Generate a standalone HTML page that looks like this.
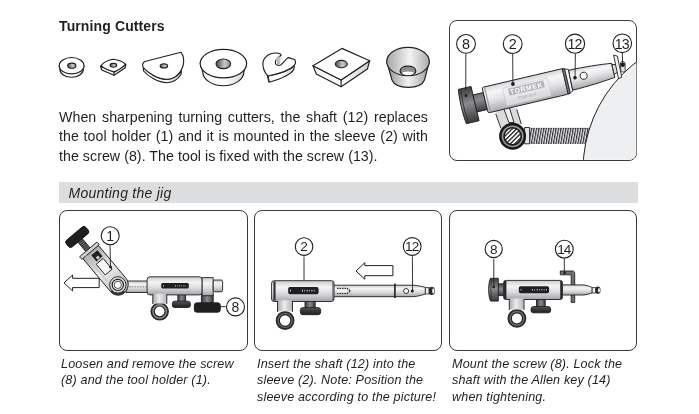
<!DOCTYPE html>
<html><head><meta charset="utf-8"><style>
*{margin:0;padding:0;box-sizing:border-box}
html,body{width:699px;height:414px;background:#fff;overflow:hidden}
body>*{will-change:transform}
body{position:relative;font-family:"Liberation Sans",sans-serif;color:#231f20}
.a{position:absolute;white-space:nowrap}
#title{left:59px;top:18.3px;font-weight:bold;font-size:14px;line-height:16px;letter-spacing:0.12px}
#para{left:59px;top:108.1px;width:369px;font-size:14.2px;line-height:19.3px;text-align:justify;text-align-last:left;white-space:normal;letter-spacing:0.05px}
#bar{left:59px;top:182px;width:579px;height:21px;background:#dcdddf}
#bar span{position:absolute;left:9.6px;top:2.8px;font-style:italic;font-size:14px;line-height:16px;letter-spacing:0.25px}
.box{position:absolute;width:188px;height:141px;border:1.3px solid #3a3a3c;border-radius:8px}
.cap{position:absolute;top:356.1px;font-style:italic;font-size:12.6px;line-height:16.3px;white-space:nowrap;letter-spacing:0.15px}
svg{position:absolute;left:0;top:0}
</style></head><body>
<div class="a" id="title">Turning Cutters</div>
<div class="a" id="para">When sharpening turning cutters, the shaft (12) replaces the tool holder (1) and it is mounted in the sleeve (2) with the screw (8). The tool is fixed with the screw (13).</div>
<div class="a" id="bar"><span>Mounting the jig</span></div>
<div class="box" style="left:449px;top:19.5px;border-color:#3e3c3e"></div>
<div class="box" style="left:58.5px;top:209.8px;width:188.5px"></div>
<div class="box" style="left:254px;top:209.8px"></div>
<div class="box" style="left:449px;top:209.8px"></div>
<div class="cap" style="left:60.5px">Loosen and remove the screw<br>(8) and the tool holder (1).</div>
<div class="cap" style="left:256.5px">Insert the shaft (12) into the<br>sleeve (2). Note: Position the<br>sleeve according to the picture!</div>
<div class="cap" style="left:451.5px">Mount the screw (8). Lock the<br>shaft with the Allen key (14)<br>when tightening.</div>
<svg width="699" height="414" viewBox="0 0 699 414">
<defs>
<linearGradient id="gh" x1="0" x2="1" y1="0" y2="0"><stop offset="0" stop-color="#4a4a4c"/><stop offset="0.6" stop-color="#c8c8ca"/><stop offset="1" stop-color="#8a8a8c"/></linearGradient>
<linearGradient id="gside" x1="0" x2="1" y1="0" y2="0"><stop offset="0" stop-color="#f4f4f5"/><stop offset="0.5" stop-color="#ffffff"/><stop offset="1" stop-color="#d0d0d2"/></linearGradient>
<linearGradient id="gcup" x1="0" x2="1" y1="0" y2="0"><stop offset="0" stop-color="#8e8f92"/><stop offset="0.5" stop-color="#f2f2f3"/><stop offset="1" stop-color="#9c9da0"/></linearGradient>
<linearGradient id="gcupin" x1="0" x2="1" y1="0" y2="0"><stop offset="0" stop-color="#a5a6a9"/><stop offset="0.55" stop-color="#f4f4f5"/><stop offset="1" stop-color="#a9aaad"/></linearGradient>
</defs>
<g id="cutters" stroke="#231f20" stroke-width="1.15" fill="#fff" stroke-linejoin="round">
 <!-- c1 -->
 <path d="M59.2,65.7 L59.9,69.2 A11.7,8.1 0 0 0 83.3,69.2 L84,65.7 Z" fill="url(#gside)"/>
 <ellipse cx="71.6" cy="65.7" rx="12.4" ry="8.2"/>
 <ellipse cx="71.8" cy="65.7" rx="4.1" ry="2.5" fill="url(#gh)"/>
 <!-- c2 -->
 <path d="M100.5,66.2 L101.8,70 L114,75.3 L125,68.1 L125.9,64.4 L114,71.9 Z" fill="url(#gside)"/>
 <path d="M114,71.9 L114,75.3" fill="none"/>
 <path d="M101,65.6 C104,62 108,60 113.4,59.3 C118,60 123,62 125.6,64.2 C123,67 118,70.5 114,71.9 C109,70.5 104,68.5 101,65.6 Z"/>
 <ellipse cx="113.4" cy="65.3" rx="3.3" ry="1.9" fill="url(#gh)"/>
 <!-- c3 -->
 <path d="M143.3,67.5 C148,73 158,79.4 167,79.4 C173.5,79 178,76 181.5,71 L181,74.5 C178,79.3 173.5,82.3 167,82.7 C158,82.7 148,76.3 143.6,71 Z" fill="url(#gside)"/>
 <path d="M144.8,61.5 L181,52.3 C183.5,55 184.5,61 183,66 C181,73 175,79 167,79.4 C158,79.4 148,73 143.3,67.5 C142,65.5 142.6,62.6 144.8,61.5 Z"/>
 <ellipse cx="163.9" cy="65.9" rx="3.7" ry="2" fill="url(#gh)"/>
 <!-- c4 -->
 <path d="M200.2,63.6 L202.7,71.8 A20.6,13.9 0 0 0 243.9,71.8 L246.6,63.6 Z" fill="url(#gside)"/>
 <ellipse cx="223.4" cy="63.6" rx="23.2" ry="14.3"/>
 <ellipse cx="223.3" cy="63.8" rx="7.3" ry="4.8" fill="url(#gh)"/>
 <!-- c5 -->
 <path d="M267.5,76 C278,74 290,70 294.3,65.5 L293.8,69.5 C291,74.5 282,78.5 269,82.2 Z" fill="url(#gside)"/>
 <path d="M268,76 C264,72 262.5,67 263,62 C264.5,56 270,53 275.5,53 C278.5,53 281,54 281,55.3 C278,57.5 275.5,60 275.3,62.5 C275.3,65 278,66 280.5,65 C283.5,63 286,59 288.3,57.6 L294.7,59.5 C295.8,61.5 295.5,64 294.3,65.5 C290,70 278,74 268,76 Z"/>
 <path d="M281,55.3 C279.5,57.5 277,61 278,64" fill="none" stroke-width="0.7"/>
 <path d="M276,58 C276,61 277,64 280,65 L280.5,56 Z" fill="#bdbdbf" stroke="none"/>
 <path d="M268,76 L269,82.2" fill="none"/>
 <!-- c6 -->
 <path d="M313,65.7 L316.3,74 L341.1,86.8 L367.4,69 L369.7,60.7 L341.1,80.1 Z" fill="url(#gside)"/>
 <path d="M341.1,80.1 L341.1,86.8" fill="none"/>
 <path d="M341.9,48.4 L369.7,60.7 L341.1,80.1 L313,65.7 Z"/>
 <ellipse cx="341.3" cy="64" rx="6" ry="3.7" fill="url(#gh)"/>
 <!-- c7 cup -->
 <path d="M386.7,61.6 L392,80 C394,85 401,87.3 408.3,87.3 C415.5,87.3 422.5,85 424.5,80 L429.3,61.6 Z" fill="url(#gcup)"/>
 <ellipse cx="408" cy="61.6" rx="21.3" ry="14.2" fill="url(#gcupin)"/>
 <path d="M400.1,71 C400.1,68 403.5,66.1 408,66.1 C412.5,66.1 415.8,68 415.8,71 C415.8,73.5 412.5,75 408,75 C403.5,75 400.1,73.5 400.1,71 Z" fill="#8d8e91"/>
 <ellipse cx="408" cy="73.2" rx="5.8" ry="1.7" fill="#fff" stroke="none"/>
</g>

<defs>
<clipPath id="cTR"><rect x="450" y="20.2" width="186.4" height="139.6" rx="7"/></clipPath>
<linearGradient id="gcyl" x1="0" x2="0" y1="0" y2="1"><stop offset="0" stop-color="#d2d3d5"/><stop offset="0.25" stop-color="#f7f7f8"/><stop offset="0.55" stop-color="#e2e3e5"/><stop offset="1" stop-color="#a9aaad"/></linearGradient>
<linearGradient id="gdark" x1="0" x2="0" y1="0" y2="1"><stop offset="0" stop-color="#6d6e71"/><stop offset="0.35" stop-color="#8a8b8e"/><stop offset="1" stop-color="#3e3f41"/></linearGradient>
<linearGradient id="gknob" x1="0" x2="0" y1="0" y2="1"><stop offset="0" stop-color="#3e3f41"/><stop offset="0.45" stop-color="#8a8b8e"/><stop offset="1" stop-color="#3a3a3c"/></linearGradient>
<pattern id="hatch" width="3.1" height="3.1" patternUnits="userSpaceOnUse" patternTransform="rotate(45)"><rect width="3.1" height="3.1" fill="#fff"/><rect width="1.3" height="3.1" fill="#231f20"/></pattern>
<pattern id="thread" width="2.45" height="20" patternUnits="userSpaceOnUse" patternTransform="skewX(-10)"><rect width="2.45" height="20" fill="#e2e2e4"/><rect width="1.15" height="20" fill="#2f2f31"/></pattern>
</defs>
<g stroke="#231f20" stroke-width="0.9">
 <!-- thread rod -->
 <rect x="529" y="127.9" width="64" height="15.8" fill="url(#thread)" stroke="none"/>
 <path d="M529,128.4 L593,128.4 M529,143.3 L593,143.3" fill="none" stroke-width="0.8" stroke-dasharray="1.2,1.2"/>
</g>
<g clip-path="url(#cTR)">
 <circle cx="719" cy="170" r="136" fill="#eeeff1" stroke="#231f20" stroke-width="1"/>
</g>
<g id="tr" stroke="#231f20" stroke-width="0.9" stroke-linejoin="round">
 <rect x="524.6" y="127.5" width="5" height="16.3" fill="#e6e6e8"/>
 <!-- strut -->
 <path d="M497,108 L495.5,114 L501,128.5 L521.5,124.5 L516.5,108 Z" fill="#dcdcde" stroke="none"/>
 <path d="M495.8,113.9 L500.9,128.4 M516.8,109.5 L521.2,124" fill="none"/>
 <path d="M502.3,104.5 L508.9,122.5 L514,122.5 L508.1,103.5 Z" fill="#f0f0f1"/>
 <!-- clamp -->
 <circle cx="512.6" cy="136.3" r="12.2" fill="#9a9b9e" stroke="#1a1a1a" stroke-width="2.6"/>
 <circle cx="512.6" cy="136.3" r="8.6" fill="url(#hatch)" stroke="#1a1a1a" stroke-width="1.6"/>
 <!-- main rotated assembly -->
 <g transform="translate(520,91.6) rotate(-13.2)">
  <!-- knob -->
  <path d="M-59.5,-16.2 L-46.5,-16.2 L-46.5,19 L-59.5,19 C-61,10 -61,-8 -59.5,-16.2 Z" fill="url(#gknob)"/>
  <path d="M-57.2,-14.5 C-58.5,-6 -58.5,10 -57.2,17.5" fill="none" stroke="#2a2a2c" stroke-width="0.8"/>
  <!-- neck -->
  <rect x="-46.5" y="-7.5" width="10.5" height="17.5" fill="url(#gdark)"/>
  <!-- body -->
  <rect x="-36" y="-12.7" width="82.5" height="26.2" rx="1.5" fill="url(#gcyl)"/>
  <path d="M-33.5,-12.3 L-33.5,13.1" fill="none" stroke="#9d9ea1" stroke-width="1.2"/>
  <!-- label recess -->
  <path d="M-16.2,-7 L29.5,-7 M-16.2,-7 L-16.2,11 M29.5,-7 L29.5,11" fill="none" stroke="#c4c5c7" stroke-width="0.7"/>
  <rect x="-16" y="-7" width="45.5" height="18" fill="#ededee" stroke="none" opacity="0.6"/>
  <rect x="-11.2" y="-5.7" width="36.4" height="7.2" rx="0.8" fill="#b3b4b7" stroke="none"/>
  <text x="-9.8" y="0.5" font-family="Liberation Sans" font-weight="bold" font-size="6.8" fill="#fff" stroke="none" letter-spacing="0.75">TORMEK</text>
  <text x="-3.2" y="7.3" font-family="Liberation Sans" font-size="4.6" fill="#b0b1b4" stroke="none">Patented</text>
  <!-- collar -->
  <path d="M46.3,-12.7 L48.6,-12.4 L48.6,13.2 L46.3,13.5 Z" fill="#7a7b7e" stroke="#231f20" stroke-width="0.8"/>
  <path d="M48.6,-11.8 L52.2,-10.6 L51.6,11.3 L48.6,12.6 Z" fill="#f4f4f5" stroke="#231f20" stroke-width="0.8"/>
  <!-- shaft -->
  <path d="M52.2,-9.6 C68,-9.6 85,-8 95.6,-6.6 L95.6,7.8 C85,9 68,10.6 51.6,10.6 Z" fill="url(#gcyl)"/>
  <path d="M95.6,-5.2 L99.5,-4.5 L99.5,3.5 L95.6,4.8 Z" fill="#dedee0"/>
  <circle cx="56.7" cy="-0.9" r="1.8" fill="#231f20" stroke="none"/>
  <circle cx="65.6" cy="-0.9" r="3.5" fill="#fff"/>
 </g>
 <!-- small screw 13 -->
 <path d="M620.5,63 C620.5,61 624.5,61 625,63 L625.2,70.5 C624.8,72.5 621,72.5 620.8,70.5 Z" fill="#e4e4e6" stroke-width="0.8"/>
 <path d="M613.6,55.2 L617.3,56 L621.8,77.3 L618.5,78.6 Z" fill="#f4f4f5"/>
 <circle cx="622.7" cy="64.8" r="2.3" fill="#231f20" stroke="none"/>
 <!-- leaders -->
 <path d="M465.8,54 L465.8,90 M512.7,53.6 L512.9,84 M575.4,53.8 L575,77.8 M622.3,52.6 L622.6,63" fill="none" stroke="#231f20" stroke-width="0.9"/>
 <circle cx="512.9" cy="84" r="1.9" fill="#231f20" stroke="none"/>
 <circle cx="466" cy="95.5" r="1.5" fill="#231f20" stroke="none"/>
</g>

<defs>
<linearGradient id="gbody" x1="0" x2="0" y1="0" y2="1"><stop offset="0" stop-color="#c9cacc"/><stop offset="0.3" stop-color="#f4f4f5"/><stop offset="0.6" stop-color="#dcdddf"/><stop offset="1" stop-color="#a4a5a8"/></linearGradient>
<linearGradient id="gleg" x1="0" x2="1" y1="0" y2="0"><stop offset="0" stop-color="#a9aaad"/><stop offset="0.45" stop-color="#ececed"/><stop offset="1" stop-color="#b4b5b8"/></linearGradient>
<linearGradient id="gkn" x1="0" x2="0" y1="0" y2="1"><stop offset="0" stop-color="#5a5b5e"/><stop offset="0.4" stop-color="#3b3c3e"/><stop offset="1" stop-color="#202022"/></linearGradient>
<linearGradient id="gstem" x1="0" x2="1" y1="0" y2="0"><stop offset="0" stop-color="#3a3b3d"/><stop offset="0.5" stop-color="#8a8b8e"/><stop offset="1" stop-color="#3a3b3d"/></linearGradient>
<linearGradient id="gknobv" x1="0" x2="1" y1="0" y2="0"><stop offset="0" stop-color="#3c3d3f"/><stop offset="0.45" stop-color="#77787b"/><stop offset="1" stop-color="#333335"/></linearGradient>
<pattern id="thr2" width="2" height="3" patternUnits="userSpaceOnUse"><rect width="2" height="3" fill="#d4d5d7"/><rect width="1" height="1.2" fill="#4a4a4c"/></pattern>
</defs>
<g stroke="#231f20" stroke-width="0.9" stroke-linejoin="round">
 <!-- ===== PANEL 1 ===== -->
 <!-- rod from ring to sleeve -->
 <rect x="126" y="281" width="23" height="11.5" fill="url(#gbody)"/>
 <path d="M129,286.8 L147,286.8" stroke="#6a6b6e" stroke-width="0.8" stroke-dasharray="1.5,1.2" fill="none"/>
 <!-- holder rotated -->
 <g transform="translate(117.8,285.3) rotate(50)">
  <!-- stem threaded -->
  <rect x="-60" y="-2.8" width="16" height="5.6" fill="#3a3b3d"/>
  <path d="M-58,-2.6 L-58,2.6 M-56,-2.6 L-56,2.6 M-54,-2.6 L-54,2.6 M-52,-2.6 L-52,2.6 M-50,-2.6 L-50,2.6 M-48,-2.6 L-48,2.6 M-46,-2.6 L-46,2.6" stroke="#8a8b8e" stroke-width="0.6"/>
  <!-- T knob -->
  <rect x="-67.5" y="-12.8" width="8.8" height="25.6" rx="2.8" fill="#1f1f21" stroke="#111"/>
  <!-- holder body -->
  <path d="M-44,-10.8 L0,-10.8 C6,-10.8 10,-5 10,0 C10,5.5 5.5,9.6 0,9.6 L-44,9.6 Z" fill="url(#gleg)"/>
  <rect x="-46.5" y="-12" width="3.5" height="23" rx="1" fill="#d0d1d3"/>
  <rect x="-40" y="-7" width="8" height="8" fill="#1f1f21" stroke="none"/>
  <rect x="-35.5" y="-4" width="3" height="3" fill="#ccc" stroke="none"/>
  <rect x="-30" y="-6" width="14" height="9" fill="#f7f7f7"/>
  <path d="M-44,5.5 L-10,5.5" stroke="#c0c1c3" stroke-width="1" fill="none"/>
 </g>
 <!-- ring on holder -->
 <circle cx="117.8" cy="284.9" r="8.2" fill="#d8d9db"/>
 <circle cx="117.8" cy="284.9" r="5.6" fill="#f4f4f5" stroke-width="1.2"/>
 <circle cx="117.8" cy="284.9" r="3.6" fill="#fff" stroke-width="0.8"/>
 <path d="M111,291 A9.5,9.5 0 0 0 124.5,291.5" fill="none" stroke="#333" stroke-width="2"/>
 <!-- arrow -->
 <path d="M64,282.9 L72.6,275 L72.6,278.3 L99.2,278.3 L99.2,287.6 L72.6,287.6 L72.6,290.9 Z" fill="#fff" stroke-width="1"/>
 <!-- sleeve -->
 <circle cx="159.7" cy="311.4" r="9.2" fill="#2a2a2c" stroke="none"/>
 <circle cx="159.7" cy="311.4" r="7.4" fill="#8e8f92" stroke="none"/>
 <circle cx="159.7" cy="311.4" r="5.4" fill="#fff" stroke-width="1.2"/>
 <rect x="177.8" y="294.5" width="7.8" height="8" fill="url(#gstem)"/>
 <rect x="172.3" y="301.2" width="18.1" height="6.3" rx="2.5" fill="url(#gkn)"/>
 <rect x="201.4" y="294.5" width="11.8" height="9" fill="url(#gstem)"/>
 <rect x="194.3" y="302.8" width="26" height="9.4" rx="2.5" fill="#1f1f21"/>
 <rect x="147.1" y="276.8" width="55.1" height="18.1" rx="3" fill="url(#gbody)"/>
 <rect x="161.2" y="283.1" width="27.6" height="5.5" rx="1.5" fill="#1f1f21" stroke="none"/>
 <path d="M163,285.9 L164,285.9 M175,285.9 L186,285.9" stroke="#bfc0c2" stroke-width="1.2" stroke-dasharray="1,1.2,0.6,1.4"/>
 <rect x="152.8" y="293.6" width="14" height="10" fill="url(#gleg)" stroke="none"/>
 <path d="M152.8,294.3 L152.8,304 M166.8,294.3 L166.8,304" fill="none"/>
 <rect x="202.2" y="277.6" width="11" height="18.1" fill="url(#gbody)"/>
 <rect x="213.2" y="280" width="9.4" height="11.8" rx="1.5" fill="url(#gbody)"/>
 <path d="M220.3,306.7 L225.8,306.7" fill="none"/>
 <!-- leader 1 -->
 <path d="M110,245 L110.5,267" fill="none"/>
 <circle cx="110.5" cy="267" r="1.5" fill="#231f20" stroke="none"/>

 <!-- ===== PANEL 2 ===== -->
 <!-- shaft -->
 <path d="M333.5,285.2 L413.6,285.2 C418,285.6 422,286.5 425.4,287.3 L425.4,294.1 C422,295 418,296.3 413.6,296.7 L333.5,296.7 Z" fill="url(#gbody)"/>
 <path d="M337,288.3 L347,288.3 L350.6,290.9 L347,293.4 L337,293.4" fill="none" stroke="#2a2a2c" stroke-width="1.2" stroke-dasharray="1.6,0.9"/>
 <rect x="337" y="289.2" width="10" height="3.4" fill="#f2f2f3" stroke="none"/>
 <path d="M394.9,283.4 L394.9,298" fill="none" stroke-width="1.6"/>
 <rect x="425.4" y="287.6" width="3.8" height="6.4" fill="#f0f0f1" stroke-width="0.8"/>
 <rect x="429.2" y="287.3" width="5" height="7.2" rx="1.8" fill="#2a2a2c" stroke-width="0.8"/>
 <ellipse cx="433.2" cy="290.9" rx="1" ry="2.6" fill="#fff" stroke="none"/>
 <circle cx="406.1" cy="291" r="2.5" fill="#fff" stroke-width="0.9"/>
 <circle cx="412.3" cy="291" r="1.5" fill="#231f20" stroke="none"/>
 <!-- arrow -->
 <path d="M356,271 L364.8,262.7 L364.8,265.6 L392.9,265.6 L392.9,275.7 L364.8,275.7 L364.8,279.2 Z" fill="#fff" stroke-width="1"/>
 <!-- sleeve -->
 <circle cx="285.1" cy="320.5" r="9.4" fill="#2a2a2c" stroke="none"/>
 <circle cx="285.1" cy="320.5" r="7.6" fill="#6e6f72" stroke="none"/>
 <circle cx="285.1" cy="320.5" r="5.8" fill="#fff" stroke-width="1.2"/>
 <rect x="305" y="300.8" width="10.2" height="8" fill="url(#gstem)"/>
 <rect x="300.3" y="307.6" width="20.4" height="7.1" rx="2.8" fill="url(#gkn)"/>
 <rect x="271.6" y="280.7" width="62.4" height="20.8" rx="2.5" fill="url(#gbody)"/>
 <path d="M274.5,281.5 L274.5,300.6" stroke="#333" stroke-width="2.2" fill="none"/>
 <rect x="277.5" y="300.2" width="15" height="11" fill="url(#gleg)" stroke="none"/>
 <path d="M277.5,300.9 L277.5,312 M292.5,300.9 L292.5,312" fill="none"/>
 <path d="M333,281.5 L333,300.6" stroke="#555" stroke-width="1.2" fill="none"/>
 <rect x="288.2" y="287" width="30.4" height="7.3" rx="1.8" fill="#1f1f21" stroke="none"/>
 <path d="M290,290.6 L291.2,290.6 M302,290.6 L316,290.6" stroke="#d8d9db" stroke-width="1.6" stroke-dasharray="1,1.4,0.7,1.6"/>
 <!-- leaders -->
 <path d="M304,256.4 L304,280.7 M412.4,256.3 L412.6,290.8" fill="none"/>

 <!-- ===== PANEL 3 ===== -->
 <!-- allen key (behind shaft) -->
 <path d="M560.3,271 L572.5,271 C574,271 574.7,272 574.7,273.5 L574.7,302.4 L571.2,302.4 L571.2,274.8 L560.3,274.8 Z" fill="#707174" stroke-width="0.9"/>
 <!-- shaft -->
 <path d="M562.5,284.9 L583.7,284.9 C587,285.5 590,286.5 592.2,287.5 L592.2,292.9 C590,293.8 587,294.6 583.7,295 L562.5,295 Z" fill="url(#gbody)"/>
 <rect x="592.2" y="287.6" width="3.6" height="5.4" fill="#f0f0f1" stroke-width="0.8"/>
 <rect x="595.8" y="287" width="4.2" height="6.4" rx="1.6" fill="#2a2a2c" stroke-width="0.8"/>
 <ellipse cx="599" cy="290.2" rx="0.9" ry="2.3" fill="#fff" stroke="none"/>
 <circle cx="564.6" cy="272.8" r="1.4" fill="#231f20" stroke="none"/>
 <!-- sleeve -->
 <circle cx="516.9" cy="318.4" r="9.4" fill="#2a2a2c" stroke="none"/>
 <circle cx="516.9" cy="318.4" r="7.6" fill="#6e6f72" stroke="none"/>
 <circle cx="516.9" cy="318.4" r="5.6" fill="#fff" stroke-width="1.2"/>
 <rect x="536.5" y="299" width="8.7" height="8" fill="url(#gstem)"/>
 <rect x="531" y="306.6" width="19.7" height="6.2" rx="2.6" fill="url(#gkn)"/>
 <rect x="498" y="283.8" width="6" height="11.8" fill="url(#gknob)"/>
 <path d="M490.5,278.3 L498.3,278.3 L498.3,301.1 L490.5,301.1 C488,296 488,283 490.5,278.3 Z" fill="url(#gknob)"/>
 <path d="M491.6,279.5 C490.6,285 490.6,294 491.6,300" fill="none" stroke="#2a2a2c" stroke-width="0.7"/>
 <rect x="503.6" y="280.4" width="58.8" height="19.1" rx="2" fill="url(#gbody)"/>
 <path d="M505.2,281 L505.2,299" stroke="#2a2a2c" stroke-width="2.4" fill="none"/>
 <rect x="509.3" y="298.4" width="14.7" height="11" fill="url(#gleg)" stroke="none"/>
 <path d="M509.3,299.1 L509.3,310 M524,299.1 L524,310" fill="none"/>
 <path d="M561.2,281 L561.2,299" stroke="#2a2a2c" stroke-width="2" fill="none"/>
 <rect x="518.8" y="286.2" width="30.3" height="7" rx="1.8" fill="#1f1f21" stroke="none"/>
 <path d="M520.5,289.7 L521.7,289.7 M532,289.7 L547,289.7" stroke="#c8c9cb" stroke-width="1.5" stroke-dasharray="1,1.4,0.7,1.6"/>
 <circle cx="493.7" cy="287" r="1.3" fill="#231f20" stroke="none"/>
 <path d="M493.8,258.8 L493.8,287 M564.3,258.8 L564.3,271" fill="none"/>

</g>
 <!-- callouts -->
 <g fill="#fff" stroke="#231f20" stroke-width="1.1">
  <circle cx="466" cy="43.9" r="9.4"/>
  <circle cx="512.7" cy="44.1" r="9.4"/>
  <circle cx="575" cy="43.7" r="9.6"/>
  <circle cx="622.3" cy="43.3" r="9.3"/>
  <circle cx="110.2" cy="235.7" r="9.0"/>
  <circle cx="235.5" cy="306.9" r="9.0"/>
  <circle cx="304.05" cy="246.6" r="8.8"/>
  <circle cx="412.2" cy="246.5" r="8.9"/>
  <circle cx="493.7" cy="249" r="8.6"/>
  <circle cx="564.3" cy="249.2" r="8.9"/>
 </g>
 <g font-family="Liberation Sans" fill="#231f20" stroke="none" text-anchor="middle">
  <text x="466.00" y="48.9" font-size="14.4">8</text>
  <text x="512.70" y="49" font-size="14.4">2</text>
  <text x="574.55" y="49" font-size="14.2" letter-spacing="-0.9">12</text>
  <text x="621.85" y="48.8" font-size="14.2" letter-spacing="-0.9">13</text>
  <text x="110.20" y="241.1" font-size="14">1</text>
  <text x="235.50" y="312.3" font-size="14">8</text>
  <text x="304.05" y="251.4" font-size="13.6">2</text>
  <text x="411.75" y="251.4" font-size="13.6" letter-spacing="-0.9">12</text>
  <text x="493.70" y="253.9" font-size="13.6">8</text>
  <text x="563.85" y="254" font-size="13.6" letter-spacing="-0.9">14</text>
 </g>
</svg>
</body></html>
